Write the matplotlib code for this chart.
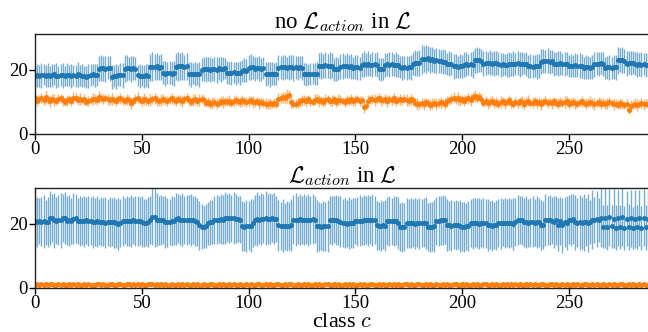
import numpy as np
import matplotlib
matplotlib.use("Agg")
import matplotlib.pyplot as plt

plt.rcParams['font.family'] = ['Liberation Serif', 'DejaVu Serif']
plt.rcParams['mathtext.fontset'] = 'cm'

# ---------------- data ----------------
top_blue = [
    18.2, 18.4, 18.1, 18.3, 18.5, 18.2, 18.4, 18.0, 18.3, 18.6, 18.2, 18.1, 18.4, 18.3, 18.2, 18.5,
    18.3, 18.1, 18.4, 18.2, 18.6, 18.3, 18.2, 18.0, 17.8, 18.1, 18.4, 18.6, 18.3, 18.5,
    20.4, 20.6, 20.5, 20.3, 20.7, 20.5,
    17.9, 18.1, 18.0, 18.3, 18.5, 18.4,
    20.4, 20.7, 20.5, 20.3, 20.6, 20.4,
    18.3, 18.1, 18.2, 18.0, 18.3, 18.2,
    20.8, 21.0, 20.9, 21.1, 20.7, 20.9,
    19.1, 18.9, 19.0, 19.2, 18.9, 19.0,
    21.0, 21.2, 21.1, 21.3, 20.9, 21.1,
    18.8, 18.6, 18.9, 18.7, 18.8, 18.6,
    20.1, 20.3, 20.2, 20.4, 20.1, 20.2, 20.3, 20.1,
    20.5, 20.3, 20.4, 20.5,
    19.2, 19.0, 19.1, 19.3, 19.0, 19.2, 19.1,
    19.7, 19.9, 19.8,
    20.7, 20.9, 20.8,
    20.4, 20.6, 20.5, 20.3, 20.6,
    18.7, 18.9, 18.6, 18.8, 18.7, 18.9,
    20.7, 20.9, 20.8, 21.0, 20.6, 20.8, 20.9, 20.7, 20.8, 20.6, 20.9, 20.7,
    18.8, 18.7, 18.6, 18.8, 18.9, 18.7, 18.8,
    21.3, 21.4, 21.2, 21.5, 21.3, 21.4, 21.3,
    20.2, 20.4, 20.3,
    21.0, 21.2, 21.1, 21.3, 21.0, 21.1,
    20.7, 20.9, 20.8, 20.6,
    21.6, 21.8, 21.7, 21.9, 21.6, 21.7, 21.8, 21.6,
    20.4, 20.2, 20.3,
    21.6, 21.8, 21.7, 21.9, 21.6, 21.7, 21.5,
    20.9, 20.7, 20.8, 20.6, 20.9, 20.8,
    22.0, 22.2, 22.1, 22.3,
    23.3, 23.5, 23.4, 23.6, 23.2, 23.4,
    22.8, 23.0, 22.9, 22.7, 22.6, 22.4,
    21.8, 22.0, 21.9,
    21.1, 21.2, 21.0, 21.3, 21.2,
    21.6, 21.8, 21.7, 21.9, 21.6,
    23.0, 23.2, 23.1, 22.9,
    22.0, 22.2, 22.1, 22.3, 22.0, 22.1, 22.2, 22.0,
    21.6, 21.8, 21.7, 21.5, 21.8,
    21.8, 22.0, 21.9, 22.1, 21.8, 21.9, 22.0, 21.8,
    21.1, 21.2, 21.0, 21.3, 21.1, 21.2,
    22.6, 22.8, 22.7, 22.9, 22.6, 22.7,
    21.8, 22.0, 21.9, 22.1, 21.8, 21.9, 22.0,
    21.3, 21.4, 21.2, 21.5, 21.3, 21.4, 21.3,
    20.7, 20.9, 20.8, 20.6, 20.9,
    21.8, 22.0, 21.9, 22.1, 21.8,
    20.7, 20.9, 20.8, 20.6, 20.9, 20.8,
    23.0, 23.2, 23.1, 22.9,
    22.0, 22.2, 22.1, 22.3, 22.0,
    21.6, 21.8, 21.7, 21.9, 21.6, 21.7,
]
top_blue_err = [
    3.2, 3.6, 3.4, 3.8, 3.3, 3.5, 3.7, 3.2, 3.6, 3.4, 3.9, 3.3, 3.5, 3.8, 3.2, 3.6,
    3.4, 3.7, 3.3, 3.5, 3.8, 3.2, 3.6, 3.4, 3.3, 3.7, 3.5, 3.2, 3.6, 3.4, 3.9, 4.1,
    3.8, 4.2, 3.6, 3.9, 3.7, 3.5, 3.8, 3.4, 3.6, 3.9, 4.3, 4.0, 3.7, 4.1, 3.8, 3.6,
    3.4, 3.7, 3.3, 3.6, 3.5, 3.8, 4.2, 4.5, 4.0, 4.3, 3.9, 4.1, 3.6, 3.8, 3.4, 3.7,
    3.5, 3.9, 4.2, 4.5, 4.1, 4.4, 3.9, 4.2, 3.6, 3.8, 3.4, 3.7, 3.5, 3.9, 3.6, 3.8,
    4.0, 3.7, 3.9, 3.5, 3.8, 4.1, 3.7, 3.9, 3.6, 3.4, 3.7, 3.5, 3.8, 3.3, 3.6, 3.4,
    3.7, 3.5, 3.8, 3.6, 3.9, 4.1, 3.7, 3.8, 3.5, 3.9, 3.6, 3.4, 3.7, 3.5, 3.8, 3.6,
    3.4, 3.7, 3.9, 3.6, 4.0, 3.8, 3.5, 3.9, 3.7, 4.1, 3.6, 3.8, 3.5, 3.7, 3.4, 3.6,
    3.3, 3.5, 3.2, 3.4, 3.6, 3.9, 4.2, 3.8, 4.0, 3.7, 4.1, 3.9, 3.6, 3.8, 3.5, 3.9,
    4.1, 3.7, 3.9, 3.6, 3.8, 3.5, 3.7, 3.9, 3.6, 3.8, 4.0, 3.7, 3.9, 3.5, 3.8, 3.6,
    3.9, 3.5, 3.7, 3.4, 3.8, 3.6, 3.9, 3.7, 3.5, 3.8, 3.6, 3.4, 3.7, 3.5, 3.8, 3.6,
    3.9, 3.7, 4.2, 3.9, 4.1, 4.4, 4.0, 4.3, 3.8, 4.1, 3.9, 3.7, 4.0, 3.8, 3.6, 3.9,
    3.7, 3.5, 3.8, 3.6, 3.9, 3.7, 3.5, 3.8, 3.6, 3.9, 3.7, 3.4, 3.8, 4.2, 3.9, 4.1,
    3.8, 3.6, 3.9, 3.7, 3.5, 3.8, 3.6, 3.9, 3.7, 3.5, 3.8, 3.6, 3.4, 3.7, 3.9, 3.6,
    3.8, 3.5, 3.7, 3.9, 3.6, 3.4, 3.7, 3.5, 3.8, 3.6, 3.4, 3.9, 3.7, 4.0, 3.8, 3.6,
    3.9, 3.7, 3.5, 3.8, 3.6, 3.9, 3.7, 3.5, 3.8, 3.6, 3.4, 3.7, 3.5, 3.8, 3.6, 3.9,
    3.7, 3.5, 3.8, 3.6, 3.4, 3.7, 3.9, 3.6, 3.8, 3.5, 3.7, 3.4, 3.6, 3.8, 3.5, 3.7,
    3.9, 4.1, 3.8, 4.0, 3.7, 3.9, 3.6, 3.8, 3.5, 3.7, 3.9, 3.6, 3.8, 3.5, 3.7, 3.6,
]
top_orange = [
    11.2, 10.4, 10.9, 11.3, 10.6, 11.5, 10.8, 10.2, 11.0, 10.7, 10.3, 10.9, 11.1, 10.5, 10.0, 10.6,
    10.9, 10.4, 11.2, 11.4, 10.7, 11.0, 10.5, 10.8, 10.1, 10.3, 10.6, 10.9, 11.0, 10.7,
    11.6, 11.3, 10.9, 11.2, 10.8, 10.5, 11.0, 10.7, 10.4, 10.9, 11.1, 10.6, 10.3, 10.8, 10.5, 9.8,
    10.2, 11.0, 11.3, 10.7, 10.4, 10.9, 10.6, 10.2, 10.5, 10.8, 11.1, 10.6, 10.3, 10.7,
    10.9, 10.5, 10.2, 10.8, 11.1, 10.6, 10.3, 10.9, 10.7, 10.4, 10.8, 11.2, 10.5, 10.1, 10.6, 10.9,
    10.3, 10.7, 11.0, 10.5, 9.6, 9.9, 9.4, 9.7, 10.0, 9.5, 9.8, 10.2, 9.9, 10.3,
    10.1, 10.4, 9.8, 10.2, 10.6, 10.3, 10.0, 10.5, 10.2, 9.9,
    10.2, 10.5, 10.0, 9.9, 10.3, 9.6, 10.1, 9.8, 9.5, 9.3, 9.6, 9.4, 9.7, 9.5, 10.8, 11.2,
    11.5, 11.3, 11.9, 12.2,
    10.0, 9.5, 9.4, 9.8, 10.2, 10.5,
    10.6, 10.2, 10.8, 10.4, 10.1, 10.7, 10.9, 10.3, 10.5, 10.0, 10.6, 10.8, 10.2, 10.4, 10.9, 10.1,
    10.5, 10.7, 10.3, 10.0, 10.6, 10.4, 10.8, 10.2, 10.5, 10.9, 10.3, 10.6,
    8.4, 8.9,
    10.4, 10.8, 11.0, 10.6, 10.9, 11.2, 10.5, 10.7, 11.0, 10.4, 10.8, 10.6, 11.1, 10.3, 10.7, 10.9,
    10.5, 11.0, 10.6, 10.4, 10.8, 10.5,
    9.8, 9.5, 9.3, 9.7, 9.4, 9.9, 9.6, 9.2, 9.5, 9.8, 9.4, 9.6, 9.9, 9.7, 9.5,
    10.2, 10.6, 11.0, 11.3, 10.8, 11.1, 10.5, 10.9, 10.4, 10.8, 11.2, 10.6, 11.5, 11.8, 11.3, 11.7,
    11.0,
    9.8, 10.3, 9.6, 10.0, 10.4, 9.7, 10.1, 9.5, 9.9, 10.2, 9.6, 10.0, 10.5, 9.8, 9.4, 10.1,
    9.7, 10.3, 9.9, 9.5, 10.0, 10.4, 9.6, 9.8, 10.2, 9.7, 10.1, 9.5, 9.9, 10.3,
    9.7, 10.0, 9.6, 10.2, 9.8, 9.4, 10.1, 9.7, 9.9, 10.3, 9.5, 9.8, 10.0, 9.6, 9.4, 9.9,
    10.2, 9.7, 9.5, 9.8, 10.1, 9.6, 9.3, 9.7, 9.9, 9.5, 9.8, 9.4, 9.6, 10.0, 9.7, 9.3,
    9.5, 9.2, 9.6, 9.4, 9.0, 9.3,
    7.6, 8.8, 9.2, 9.5, 9.1, 9.4, 9.6, 9.3, 9.5, 9.4,
]
top_orange_err = [
    1.4, 1.8, 1.2, 1.6, 1.5, 2.0, 1.3, 1.7, 1.4, 1.9, 1.2, 1.6, 1.5, 1.8, 1.3, 1.7,
    1.4, 1.6, 1.9, 1.3, 1.5, 1.8, 1.2, 1.6, 1.4, 1.7, 1.3, 1.9, 1.5, 1.6, 1.8, 1.4,
    1.6, 1.3, 1.7, 1.5, 1.9, 1.2, 1.6, 1.4, 1.8, 1.5, 1.3, 1.7, 1.6, 1.9, 1.4, 1.5,
    1.7, 1.3, 1.6, 1.8, 1.4, 1.5, 1.9, 1.3, 1.6, 1.7, 1.4, 1.8, 1.5, 1.3, 1.6, 1.4,
    1.8, 1.5, 1.7, 1.3, 1.6, 1.9, 1.4, 1.5, 1.7, 1.3, 1.8, 1.6, 1.4, 1.9, 1.5, 1.7,
    1.3, 1.6, 1.4, 1.8, 1.5, 1.7, 1.3, 1.6, 1.9, 1.4, 1.5, 1.7, 1.3, 1.8, 1.6, 1.4,
    1.5, 1.7, 1.3, 1.6, 1.8, 1.4, 1.9, 1.5, 1.3, 1.7, 1.6, 1.4, 1.8, 1.5, 1.7, 1.3,
    1.6, 1.4, 1.9, 1.5, 1.7, 1.8, 2.1, 1.6, 1.9, 1.5, 1.4, 1.7, 1.3, 1.6, 1.5, 1.8,
    1.4, 1.6, 1.3, 1.7, 1.5, 1.9, 1.4, 1.6, 1.8, 1.3, 1.5, 1.7, 1.4, 1.6, 1.9, 1.5,
    1.3, 1.7, 1.6, 1.4, 1.8, 1.5, 1.7, 1.3, 1.6, 1.4, 1.9, 1.5, 1.7, 1.3, 1.6, 1.8,
    1.4, 1.5, 1.7, 1.3, 1.6, 1.9, 1.4, 1.5, 1.8, 1.6, 1.3, 1.7, 1.5, 1.4, 1.8, 1.6,
    1.7, 1.3, 1.5, 1.9, 1.4, 1.6, 1.8, 1.5, 1.3, 1.7, 1.6, 1.4, 1.9, 1.5, 1.7, 1.3,
    1.6, 1.8, 1.4, 1.5, 1.7, 1.3, 1.9, 1.6, 1.4, 1.8, 1.5, 1.7, 2.0, 1.6, 1.9, 1.5,
    1.4, 1.7, 1.3, 1.6, 1.8, 1.5, 1.4, 1.7, 1.6, 1.3, 1.9, 1.5, 1.7, 1.4, 1.6, 1.8,
    1.3, 1.5, 1.7, 1.4, 1.9, 1.6, 1.5, 1.8, 1.3, 1.7, 1.4, 1.6, 1.5, 1.9, 1.3, 1.7,
    1.6, 1.4, 1.8, 1.5, 1.3, 1.7, 1.6, 1.4, 1.9, 1.5, 1.7, 1.3, 1.6, 1.8, 1.4, 1.5,
    1.7, 1.3, 1.6, 1.4, 1.8, 1.5, 1.9, 1.3, 1.6, 1.7, 1.4, 1.5, 1.8, 1.6, 1.3, 1.7,
    1.5, 1.4, 1.8, 1.6, 1.3, 1.7, 1.5, 1.9, 1.4, 1.6, 1.8, 1.3, 1.5, 1.7, 1.4, 1.6,
]
bottom_blue = [
    20.8, 20.6, 20.9, 20.7, 20.8, 20.5, 20.7,
    21.8, 21.9,
    21.2, 21.0, 21.3, 21.1,
    21.9, 21.8,
    21.0, 21.2, 20.9,
    21.7, 21.8,
    20.9, 21.0, 20.8, 20.9, 21.1, 20.8, 20.9,
    20.7, 20.6, 20.8, 20.5, 20.7, 20.6, 20.4, 20.5, 20.7, 20.6, 20.5,
    20.2, 20.0, 20.3,
    20.8, 20.9, 21.0, 20.8, 20.9, 21.1, 20.9, 21.0, 20.8, 20.7,
    20.3, 20.4, 20.6, 21.2,
    22.3, 22.1,
    21.4, 21.2, 21.3, 21.1,
    20.7, 20.5, 20.6, 20.8, 20.9,
    21.6, 21.8,
    21.3, 21.4, 21.2, 21.3, 21.4, 21.2, 21.3,
    20.9, 20.6,
    19.6, 19.2, 19.0, 19.3,
    20.2, 20.5, 20.6,
    21.2, 21.4, 21.3, 21.5, 21.4,
    21.8, 21.9, 22.0, 21.8, 21.9, 21.7, 21.5, 21.4,
    19.4, 19.2, 19.3, 19.5, 19.4, 20.4,
    21.3, 21.5, 21.4, 21.6,
    21.7, 21.8, 21.6, 21.7, 21.9, 21.7, 21.6,
    19.6, 19.4, 19.5, 19.3, 19.5, 19.4, 19.6,
    21.3, 21.4, 21.2, 21.5, 21.3, 21.4, 21.2, 21.3, 21.4, 21.5, 21.3,
    19.4, 19.3, 19.2, 19.4, 19.3, 19.5,
    21.2, 21.1, 21.3, 21.2, 21.0, 20.7,
    20.2, 20.3, 20.1, 20.4, 20.2, 20.3,
    20.9, 20.8, 21.0, 20.9,
    21.2, 21.3, 21.1, 21.2, 21.3, 21.1,
    19.6, 19.4, 19.5, 19.7, 19.5,
    20.9, 21.0, 20.8, 20.9, 21.0, 20.4,
    19.1, 19.0, 19.2,
    20.3, 20.2, 20.4, 20.3, 20.1, 20.3, 20.2,
    20.3, 20.4, 20.2,
    19.1, 19.0, 19.2, 19.4,
    20.9, 21.0, 21.1, 21.2, 21.4,
    19.7, 19.6, 19.5, 19.7, 19.6, 19.8, 19.5,
    19.2, 19.1, 19.3, 19.4,
    20.3, 20.2, 20.4, 20.3, 20.1, 20.3, 20.4, 20.2,
    19.6, 19.7, 19.5, 19.6, 19.8,
    20.3, 20.2, 20.4, 20.3, 20.2, 20.4, 20.3, 20.1, 20.5,
    21.2, 21.3, 21.1,
    20.5, 20.6, 20.4, 20.5, 20.7, 20.4, 20.6, 20.5,
    19.6, 19.8,
    21.2, 21.1, 21.3, 21.0, 20.6, 21.1,
    19.8, 20.9, 19.6, 20.7, 20.2,
    21.4, 21.3, 21.5,
    20.5, 20.4, 20.6, 20.3, 20.5, 20.6, 20.4, 20.5,
    21.4, 21.3, 21.5, 21.2,
    22.0, 19.2, 21.8, 19.0, 22.1, 19.3, 21.7, 18.9, 21.9, 19.1, 22.2, 18.8, 21.6, 19.0, 21.8, 18.7,
    21.5, 19.1, 21.9, 18.8, 22.0, 19.0, 21.7,
]
bottom_blue_err = [
    7.4, 7.9, 7.2, 7.6, 8.3, 7.1, 7.8, 8.4, 7.5, 8.6, 7.3, 7.9, 8.5, 7.4, 8.2, 7.6,
    8.0, 7.3, 8.1, 7.7, 7.2, 7.9, 7.5, 8.0, 7.3, 7.8, 7.4, 8.1, 7.6, 7.9, 7.2, 7.7,
    7.5, 8.0, 7.3, 7.8, 7.4, 7.9, 7.6, 8.2, 7.5, 7.8, 7.3, 7.9, 7.6, 8.1, 7.4, 7.7,
    7.9, 7.5, 8.0, 7.6, 7.3, 7.8, 7.5, 9.0, 9.4, 8.2, 7.7, 7.9, 7.5, 8.1, 7.6, 7.3,
    7.8, 7.5, 8.2, 7.6, 7.9, 8.3, 7.4, 7.8, 7.6, 8.1, 7.5, 7.9, 7.4, 7.7, 6.9, 6.6,
    6.8, 6.7, 7.0, 6.9, 7.4, 7.7, 7.3, 7.9, 7.6, 8.2, 7.5, 7.8, 7.4, 8.0, 7.6, 7.2,
    7.4, 7.8, 7.6, 8.1, 7.7, 8.3, 7.5, 7.9, 8.4, 7.6, 8.2, 7.7, 8.5, 7.8, 8.1, 7.6,
    7.9, 7.3, 8.0, 7.6, 8.2, 7.4, 7.8, 7.5, 8.1, 7.7, 8.3, 7.6, 8.0, 7.4, 7.9, 7.6,
    8.2, 7.5, 7.8, 7.3, 8.0, 7.6, 7.4, 7.9, 7.6, 8.1, 7.5, 7.8, 7.3, 7.9, 7.6, 8.0,
    7.5, 7.8, 7.4, 8.1, 7.6, 7.9, 7.3, 7.7, 8.0, 7.5, 7.8, 7.4, 7.9, 7.6, 8.2, 7.5,
    7.7, 7.4, 7.9, 7.6, 8.0, 7.5, 7.8, 7.3, 7.9, 7.6, 8.1, 7.4, 7.8, 7.5, 7.9, 7.6,
    7.8, 7.5, 8.0, 7.6, 7.9, 7.4, 7.7, 8.1, 7.5, 7.8, 7.6, 8.0, 7.4, 7.9, 7.6, 7.8,
    7.5, 8.0, 7.6, 7.9, 7.4, 7.8, 7.5, 8.1, 7.6, 7.9, 7.3, 7.8, 7.5, 8.0, 7.6, 7.7,
    7.9, 7.4, 7.8, 7.6, 8.1, 7.5, 7.9, 7.3, 7.8, 7.6, 8.0, 7.4, 7.9, 7.5, 7.8, 7.6,
    8.1, 7.5, 7.9, 7.4, 7.8, 7.6, 8.0, 7.5, 7.7, 7.9, 7.4, 8.0, 7.6, 7.8, 7.5, 8.2,
    7.6, 7.9, 7.4, 8.1, 7.7, 8.3, 7.5, 8.6, 7.8, 8.4, 7.6, 8.2, 7.9, 8.5, 7.7, 8.6,
    8.0, 8.8, 7.4, 9.0, 6.9, 9.2, 7.1, 8.7, 6.8, 9.1, 6.6, 9.4, 7.0, 8.9, 6.7, 9.2,
    7.0, 8.8, 6.8, 9.0, 6.9, 8.6, 7.1, 8.9, 6.6, 9.1, 6.8, 8.7, 6.9, 8.8, 7.0, 8.5,
]
bottom_orange = [
    1.0, 1.2, 0.9, 1.1, 1.0, 1.3, 0.9, 1.1, 1.2, 1.0, 0.8, 1.1, 1.0, 1.2, 0.9, 1.0,
    1.1, 0.9, 1.2, 1.0, 1.1, 0.8, 1.0, 1.2, 0.9, 1.1, 1.0, 1.0, 0.9, 1.1, 1.2, 1.0,
    1.1, 0.9, 1.0, 1.2, 1.1, 0.9, 1.0, 1.1, 1.2, 1.0, 0.9, 1.1, 1.3, 1.0, 1.1, 0.9,
    1.2, 1.0, 1.1, 0.9, 1.0, 1.2, 1.1, 1.3, 1.0, 1.1, 0.9, 1.2, 1.0, 1.1, 0.9, 1.0,
    1.2, 1.0, 0.9, 1.1, 1.0, 1.2, 0.9, 1.1, 1.0, 0.8, 1.1, 1.0, 1.2, 0.9, 1.0, 1.1,
    1.0, 0.9, 1.1, 1.2, 1.0, 0.9, 1.1, 1.0, 1.2, 1.0, 0.9, 1.1, 1.0, 1.2, 0.9, 1.0,
    1.1, 1.0, 0.9, 1.2, 1.0, 1.1, 0.9, 1.0, 1.1, 1.2, 1.0, 0.9, 1.1, 1.0, 1.2, 0.9,
    1.0, 1.1, 1.2, 1.0, 0.9, 1.1, 1.0, 1.2, 1.1, 0.9, 1.0, 1.1, 1.0, 0.9, 1.2, 1.0,
    1.1, 0.9, 1.0, 1.2, 1.0, 1.1, 0.9, 1.0, 1.1, 1.3, 1.0, 0.9, 1.1, 1.0, 1.2, 0.9,
    1.0, 1.1, 0.9, 1.2, 1.0, 1.1, 1.0, 0.9, 1.2, 1.0, 1.1, 0.9, 1.0, 1.2, 1.1, 1.0,
    0.9, 1.1, 1.0, 1.2, 0.9, 1.0, 1.1, 1.0, 1.2, 0.9, 1.1, 1.0, 0.9, 1.1, 1.2, 1.0,
    1.1, 0.9, 1.0, 1.1, 1.2, 1.0, 0.9, 1.1, 1.0, 1.2, 0.9, 1.0, 1.1, 1.0, 0.9, 1.2,
    1.0, 1.1, 0.9, 1.0, 1.2, 1.1, 1.0, 0.9, 1.1, 1.0, 1.2, 0.9, 1.0, 1.1, 1.0, 1.2,
    0.9, 1.0, 1.1, 1.2, 1.0, 0.9, 1.1, 1.0, 1.2, 1.0, 0.9, 1.1, 1.0, 1.2, 0.9, 1.1,
    1.0, 1.2, 0.9, 1.1, 1.0, 1.0, 1.1, 0.9, 1.2, 1.0, 1.1, 0.9, 1.0, 1.2, 1.1, 1.0,
    0.9, 1.1, 1.3, 1.0, 1.1, 0.9, 1.0, 1.2, 1.0, 1.1, 0.9, 1.0, 1.2, 1.0, 1.1, 0.9,
    1.0, 1.1, 1.2, 0.9, 1.0, 1.1, 1.0, 1.2, 0.9, 1.0, 1.1, 1.0, 0.9, 1.2, 1.0, 1.1,
    0.9, 1.0, 1.2, 1.1, 1.0, 0.9, 1.1, 1.0, 1.2, 1.0, 0.9, 1.1, 1.0, 1.1, 0.9, 1.0,
]
bottom_orange_err = [
    0.4, 0.5, 0.3, 0.6, 0.4, 0.5, 0.3, 0.4, 0.6, 0.5, 0.4, 0.3, 0.5, 0.4, 0.6, 0.4,
    0.5, 0.3, 0.4, 0.6, 0.5, 0.4, 0.3, 0.5, 0.4, 0.6, 0.4, 0.5, 0.3, 0.4, 0.5, 0.6,
    0.4, 0.5, 0.3, 0.4, 0.6, 0.4, 0.5, 0.3, 0.5, 0.4, 0.6, 0.4, 0.5, 0.3, 0.4, 0.5,
    0.6, 0.4, 0.3, 0.5, 0.4, 0.6, 0.5, 0.4, 0.3, 0.5, 0.4, 0.6, 0.4, 0.5, 0.3, 0.4,
    0.5, 0.4, 0.6, 0.3, 0.5, 0.4, 0.6, 0.4, 0.5, 0.3, 0.4, 0.5, 0.6, 0.4, 0.3, 0.5,
    0.4, 0.6, 0.5, 0.4, 0.3, 0.5, 0.4, 0.6, 0.4, 0.5, 0.3, 0.4, 0.5, 0.6, 0.4, 0.5,
    0.3, 0.4, 0.6, 0.5, 0.4, 0.3, 0.5, 0.4, 0.6, 0.4, 0.5, 0.3, 0.4, 0.5, 0.6, 0.4,
    0.5, 0.3, 0.4, 0.6, 0.4, 0.5, 0.3, 0.5, 0.4, 0.6, 0.4, 0.5, 0.3, 0.4, 0.5, 0.6,
    0.4, 0.3, 0.5, 0.4, 0.6, 0.5, 0.4, 0.3, 0.5, 0.4, 0.6, 0.4, 0.5, 0.3, 0.4, 0.5,
    0.6, 0.4, 0.5, 0.3, 0.4, 0.6, 0.4, 0.5, 0.3, 0.5, 0.4, 0.6, 0.4, 0.5, 0.3, 0.4,
    0.5, 0.6, 0.4, 0.3, 0.5, 0.4, 0.6, 0.5, 0.4, 0.3, 0.5, 0.4, 0.6, 0.4, 0.5, 0.3,
    0.4, 0.5, 0.6, 0.4, 0.5, 0.3, 0.4, 0.6, 0.4, 0.5, 0.3, 0.5, 0.4, 0.6, 0.4, 0.5,
    0.3, 0.4, 0.5, 0.6, 0.4, 0.3, 0.5, 0.4, 0.6, 0.5, 0.4, 0.3, 0.5, 0.4, 0.6, 0.4,
    0.5, 0.3, 0.4, 0.5, 0.6, 0.4, 0.5, 0.3, 0.4, 0.6, 0.4, 0.5, 0.3, 0.5, 0.4, 0.6,
    0.4, 0.5, 0.3, 0.4, 0.5, 0.6, 0.4, 0.3, 0.5, 0.4, 0.6, 0.5, 0.4, 0.3, 0.5, 0.4,
    0.6, 0.4, 0.5, 0.3, 0.4, 0.5, 0.6, 0.4, 0.5, 0.3, 0.4, 0.6, 0.4, 0.5, 0.3, 0.5,
    0.4, 0.6, 0.4, 0.5, 0.3, 0.4, 0.5, 0.6, 0.4, 0.3, 0.5, 0.4, 0.6, 0.5, 0.4, 0.3,
    0.5, 0.4, 0.6, 0.4, 0.5, 0.3, 0.4, 0.5, 0.6, 0.4, 0.5, 0.3, 0.4, 0.6, 0.4, 0.5,
]

titles = [r"no $\mathcal{L}_{action}$ in $\mathcal{L}$", r"$\mathcal{L}_{action}$ in $\mathcal{L}$"]
xticks = [0, 50, 100, 150, 200, 250]
yticks = [0, 20]
xlabel = r"class $c$"

C0 = '#1f77b4'
C1 = '#ff7f0e'

fig = plt.figure(figsize=(6.48, 3.32), dpi=100)
ax1 = fig.add_axes([35/648, 1 - 134/332, 615/648, 100/332])
ax2 = fig.add_axes([35/648, 1 - 288/332, 615/648, 100/332])

panels = [
    (ax1, [(top_blue, top_blue_err, C0), (top_orange, top_orange_err, C1)]),
    (ax2, [(bottom_blue, bottom_blue_err, C0), (bottom_orange, bottom_orange_err, C1)]),
]
for (ax, series), title in zip(panels, titles):
    for mean, err, col in series:
        n = min(len(mean), len(err))
        x = np.arange(n)
        ax.errorbar(x, mean[:n], yerr=err[:n], fmt='o', ms=3.6, color=col,
                    ecolor=matplotlib.colors.to_rgba(col, 0.6), elinewidth=1.0,
                    capsize=0, mew=0)
    ax.set_xlim(0, 288)
    ax.set_ylim(0, 31.25)
    ax.set_xticks(xticks)
    ax.set_yticks(yticks)
    ax.tick_params(labelsize=13.5, length=4, width=1, pad=1)
    for s in ax.spines.values():
        s.set_linewidth(1.0)
        s.set_color('#222222')
    ax.set_title(title, fontsize=16.5, pad=2)

ax2.set_xlabel(xlabel, fontsize=16, labelpad=1)

fig.savefig('out.png', dpi=100)
